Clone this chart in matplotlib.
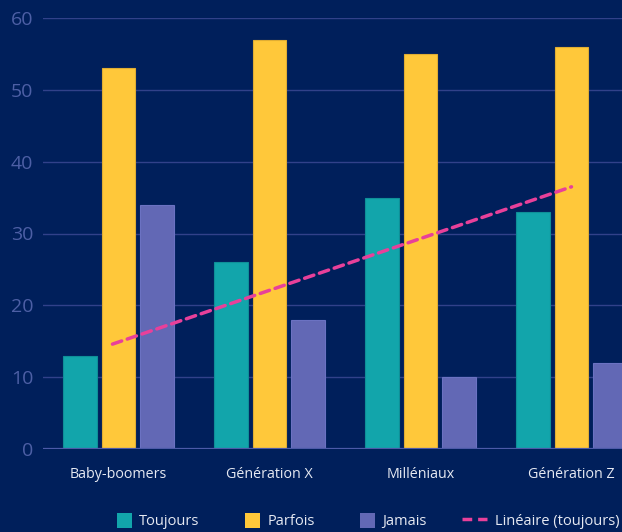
import numpy as np
import matplotlib
matplotlib.use("Agg")
import matplotlib.pyplot as plt
from matplotlib.patches import Patch, Rectangle
from matplotlib.lines import Line2D
from matplotlib.legend_handler import HandlerPatch

plt.rcParams['font.family'] = ['Open Sans', 'DejaVu Sans']

# data
categories = ["Baby-boomers", "Génération X", "Milléniaux", "Génération Z"]
toujours = [13, 26, 35, 33]
parfois = [53, 57, 55, 56]
jamais = [34, 18, 10, 12]
# dashed "Linéaire (toujours)" line, value at first and last category
trend_ends = [14.6, 36.5]
y_ticks = [0, 10, 20, 30, 40, 50, 60]

navy = "#001f5b"
teal = "#12a5ab"
yellow = "#ffc83a"
purple = "#6268b5"
pink = "#e8409a"
dash = (0, (2.8, 1.7))

fig = plt.figure(figsize=(6.22, 5.32), dpi=100, facecolor=navy)
# axes runs past the right edge, the last bar is clipped like in the reference
ax = fig.add_axes([43 / 622, 1 - 449 / 532, 604 / 622, 431 / 532])
ax.set_facecolor(navy)

x = np.arange(len(categories))
w = 0.225
off = 0.252
ax.bar(x - off, toujours, w, color=teal, edgecolor="#0f8f98", linewidth=0.8, zorder=3)
ax.bar(x, parfois, w, color=yellow, edgecolor="#e0ad33", linewidth=0.8, zorder=3)
ax.bar(x + off, jamais, w, color=purple, edgecolor="#6b72c2", linewidth=0.8, zorder=3)

ax.plot([x[0] - 0.04, x[-1]], trend_ends, color=pink, lw=2.5,
        linestyle=dash, dash_capstyle="round", zorder=4)

ax.set_xlim(-0.5, 3.5)
ax.set_ylim(0, 60)
ax.set_yticks(y_ticks)
ax.set_xticks(x)
ax.set_xticklabels(categories)
ax.tick_params(axis="y", length=0, pad=7, labelsize=14, labelcolor="#4d5fa5")
ax.tick_params(axis="x", length=0, pad=13, labelsize=10.3, labelcolor="#e6e9f2")
for s in ax.spines.values():
    s.set_visible(False)
ax.grid(axis="y", color="#31418a", lw=1, zorder=0)
ax.axhline(0, color="#4c5aa8", lw=1.6, zorder=5)


def square(legend, orig_handle, xdescent, ydescent, width, height, fontsize):
    # square swatch pushed against the label
    return Rectangle((-xdescent + width - height, -ydescent), height, height)


handles = [
    Patch(facecolor=teal, label="Toujours"),
    Patch(facecolor=yellow, label="Parfois"),
    Patch(facecolor=purple, label="Jamais"),
    Line2D([], [], color=pink, lw=2.5, linestyle=dash, label="Linéaire (toujours)"),
]
leg = fig.legend(handles=handles, loc="center", ncol=4, frameon=False,
                 bbox_to_anchor=(363 / 622, 1 - 521 / 532), fontsize=10.5,
                 handlelength=1.7, handleheight=1.2, handletextpad=0.5,
                 columnspacing=2.45,
                 handler_map={Patch: HandlerPatch(patch_func=square)})
for t in leg.get_texts():
    t.set_color("#e6e9f2")

fig.savefig("out.png", dpi=100, facecolor=navy)
